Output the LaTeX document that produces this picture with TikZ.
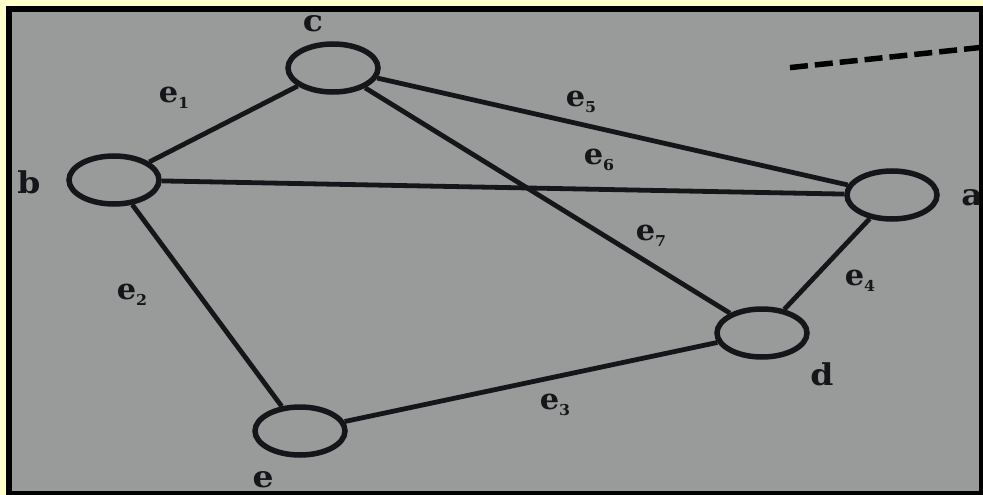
\documentclass[tikz,border=0pt]{standalone}
\usepackage{fontspec}
\setmainfont{DejaVu Serif}
\usetikzlibrary{shapes.geometric}
\definecolor{paper}{RGB}{152,155,153}
\definecolor{frameyellow}{RGB}{255,255,204}
\definecolor{ink}{RGB}{22,22,26}
\newcommand{\sub}[1]{\raisebox{-6pt}{\fontsize{15}{15}\selectfont #1}}
\begin{document}
\begin{tikzpicture}[x=1pt,y=-1pt,
 vtx/.style={ellipse, draw=ink, line width=5.5pt, minimum width=90pt, minimum height=48pt, inner sep=0pt},
 edge/.style={line width=4.8pt, draw=ink},
 vlab/.style={font=\fontsize{30}{30}\selectfont\bfseries, text=ink, inner sep=0pt, xscale=1.1},
 elab/.style={font=\fontsize{29}{29}\selectfont\bfseries, text=ink, inner sep=0pt, xscale=1.05}]
\useasboundingbox (0,0) rectangle (983,495);
\fill[frameyellow] (0,0) rectangle (983,495);
\fill[black] (6,6) rectangle (983,495);
\fill[paper] (12,12) rectangle (979,491);
\begin{scope}
\clip (12,12) rectangle (979,491);
% vertices
\node[vtx] (c) at (333,68) {};
\node[vtx] (b) at (114,180) {};
\node[vtx] (a) at (892,195) {};
\node[vtx] (d) at (762,333) {};
\node[vtx] (e) at (300,431) {};
% vertex labels
\node[vlab] (lc) at (313,24) {c};
\node[vlab] (lb) at (29,182) {b};
\node[vlab] (la) at (972,198) {a};
\node[vlab] (ld) at (822,374) {d};
\node[vlab] (le) at (263,480) {e};
% edges
\draw[edge] (b) -- (c);
\draw[edge] (c) -- (a);
\draw[edge] (b) -- (a);
\draw[edge] (c) -- (d);
\draw[edge] (a) -- (d);
\draw[edge] (b) -- (e);
\draw[edge] (e) -- (d);
% edge labels
\node[elab] (l1) at (174,98) {e\sub{1}};
\node[elab] (l5) at (581,102) {e\sub{5}};
\node[elab] (l6) at (599,160) {e\sub{6}};
\node[elab] (l7) at (651,236) {e\sub{7}};
\node[elab] (l4) at (860,281) {e\sub{4}};
\node[elab] (l2) at (132,295) {e\sub{2}};
\node[elab] (l3) at (555,405) {e\sub{3}};
% dashed line
\coordinate (ds) at (786,68);
\coordinate (de) at (985,47);
\draw[line width=5.5pt, draw=black, dash pattern=on 18pt off 7pt, dash phase=21pt] (ds) -- (de);
\end{scope}
\end{tikzpicture}
\end{document}
